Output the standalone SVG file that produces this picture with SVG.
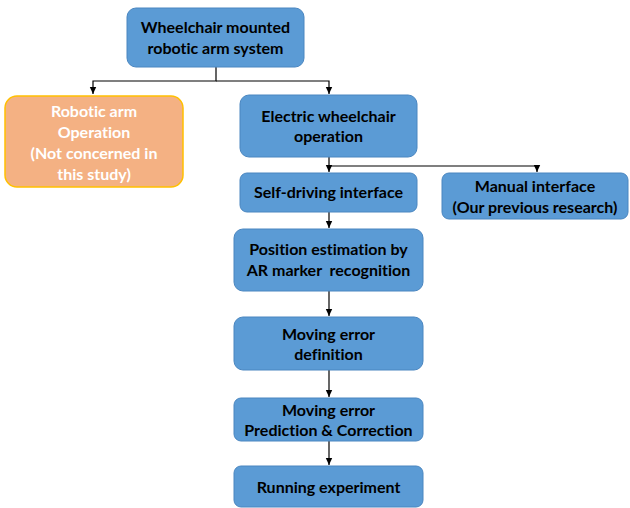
<svg xmlns="http://www.w3.org/2000/svg" width="630" height="508" viewBox="0 0 630 508">
<defs>
<marker id="ah" markerWidth="8" markerHeight="8" refX="7" refY="4" orient="auto" markerUnits="userSpaceOnUse">
<path d="M0,0.8 L7,4 L0,7.2 Z" fill="#000"/>
</marker>
<style>
.b{fill:#5B9BD5;stroke:#4A86C0;stroke-width:1}
.o{fill:#F4B183;stroke:#FFC000;stroke-width:1.5}
.t{font-family:Lato,"Liberation Sans",sans-serif;font-weight:bold;font-size:16px;fill:#000;text-anchor:middle;font-variant-ligatures:none;white-space:pre}
.w{fill:#fff}
.c{fill:none;stroke:#000;stroke-width:1.2}
</style>
</defs>
<rect width="630" height="508" fill="#fff"/>
<g id="connectors">
<polyline class="c" points="216,67 216,81 93,81 93,94" marker-end="url(#ah)"/>
<polyline class="c" points="216,81 329,81 329,94" marker-end="url(#ah)"/>
<polyline class="c" points="329,157 329,172" marker-end="url(#ah)"/>
<polyline class="c" points="329,166 537,166 537,172" marker-end="url(#ah)"/>
<polyline class="c" points="329,212 329,228" marker-end="url(#ah)"/>
<polyline class="c" points="329,291 329,316" marker-end="url(#ah)"/>
<polyline class="c" points="329,370 329,397" marker-end="url(#ah)"/>
<polyline class="c" points="329,441 329,465" marker-end="url(#ah)"/>
</g>
<g id="n1"><rect class="b" x="127" y="8" width="177" height="59" rx="9"/>
<text class="t" x="215.5" y="33">Wheelchair mounted</text><text class="t" x="215.5" y="54">robotic arm system</text></g>
<g id="n2"><rect class="o" x="5" y="96" width="178" height="91" rx="12"/>
<text class="t w" x="94" y="117">Robotic arm</text><text class="t w" x="94" y="138">Operation</text><text class="t w" x="94" y="159">(Not concerned in</text><text class="t w" x="94" y="180">this study)</text></g>
<g id="n3"><rect class="b" x="240" y="95" width="177" height="62" rx="9"/>
<text class="t" x="328.5" y="122">Electric wheelchair</text><text class="t" x="328.5" y="142">operation</text></g>
<g id="n4"><rect class="b" x="240" y="173" width="177" height="39" rx="7"/>
<text class="t" x="328.5" y="198">Self-driving interface</text></g>
<g id="n5"><rect class="b" x="442" y="173" width="186" height="46" rx="7"/>
<text class="t" x="535" y="192">Manual interface</text><text class="t" x="535" y="213">(Our previous research)</text></g>
<g id="n6"><rect class="b" x="234" y="229" width="189" height="62" rx="9"/>
<text class="t" x="328.5" y="255">Position estimation by</text><text class="t" x="328.5" y="276">AR marker  recognition</text></g>
<g id="n7"><rect class="b" x="234" y="317" width="189" height="53" rx="9"/>
<text class="t" x="328.5" y="340">Moving error</text><text class="t" x="328.5" y="360">definition</text></g>
<g id="n8"><rect class="b" x="234" y="398" width="189" height="43" rx="7"/>
<text class="t" x="328.5" y="416">Moving error</text><text class="t" x="328.5" y="436">Prediction &amp; Correction</text></g>
<g id="n9"><rect class="b" x="234" y="466" width="189" height="41" rx="7"/>
<text class="t" x="328.5" y="493">Running experiment</text></g>
</svg>
